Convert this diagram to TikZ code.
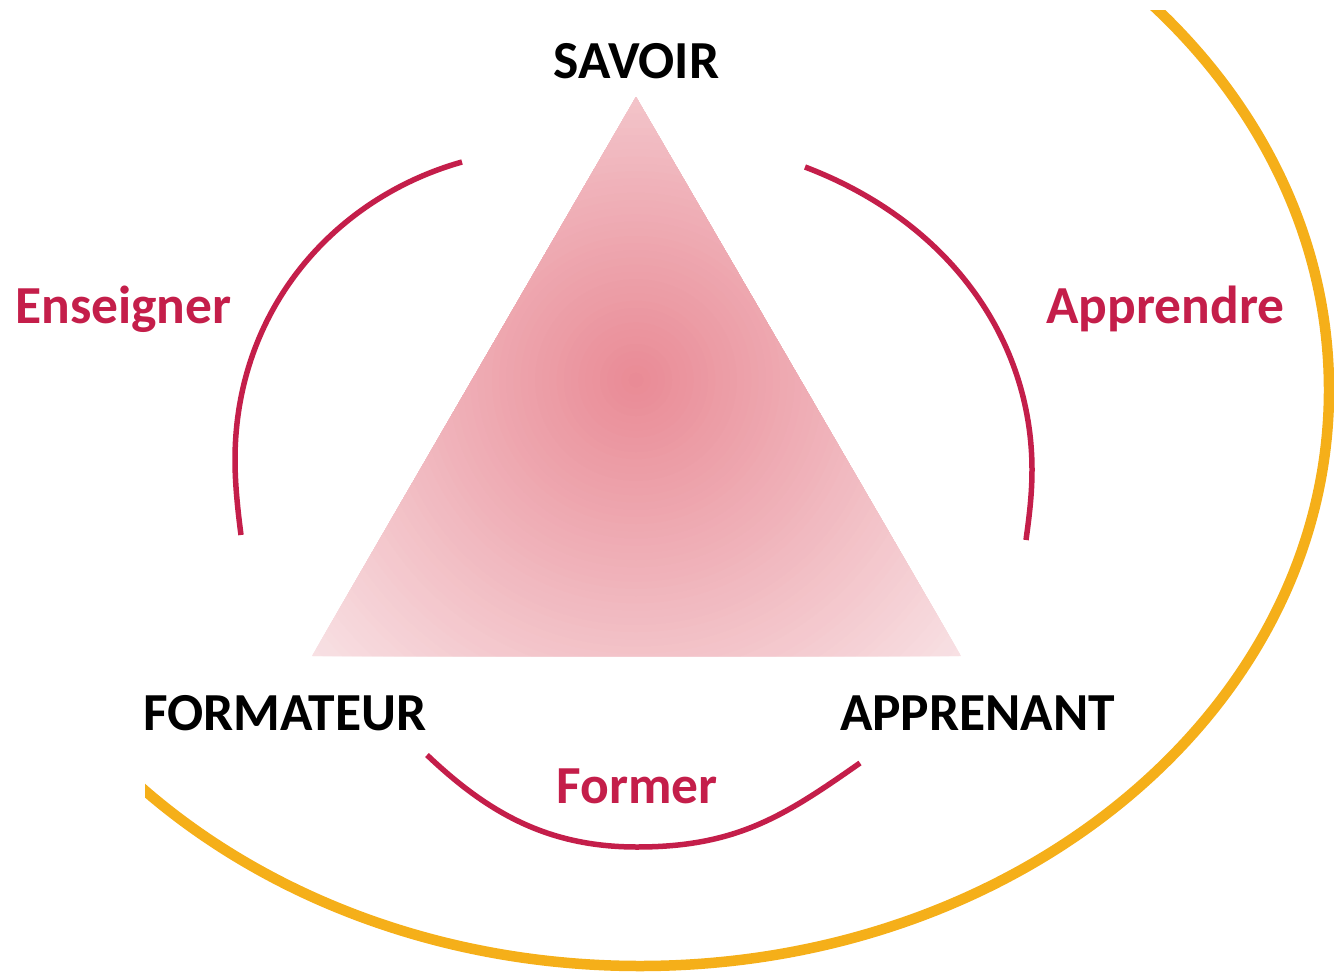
\documentclass[tikz,border=0pt]{standalone}
\usepackage{fontspec}
\setmainfont{Carlito}
\definecolor{arcred}{HTML}{C41E4A}
\definecolor{ringorange}{HTML}{F5AF19}
\definecolor{triin}{HTML}{E98A95}
\definecolor{triout}{HTML}{F8E2E5}
\tikzset{
  biglabel/.style={font=\fontsize{53.5}{60}\selectfont\bfseries, text=black, anchor=base, inner sep=0pt},
  verblabel/.style={font=\fontsize{53.5}{60}\selectfont\bfseries, text=arcred, anchor=base, inner sep=0pt},
  verbarc/.style={draw=arcred, line width=5.5pt},
}
\begin{document}
\begin{tikzpicture}[x=1pt,y=-1pt]
\useasboundingbox (0,0) rectangle (1334,972);
% orange ellipse, clipped
\begin{scope}
  \clip (145,10) rectangle (1334,972);
  \draw[ringorange, line width=10.5pt] (640,390) ellipse [x radius=689, y radius=576];
\end{scope}
% triangle with radial gradient
\coordinate (apex) at (636,97);
\coordinate (bl) at (312,656);
\coordinate (br) at (961,656);
\coordinate (gc) at (636,380);
\begin{scope}
  \clip (apex) -- (bl) -- (br) -- cycle;
  \foreach \i [evaluate=\i as \r using \i*7.2, evaluate=\i as \p using int(\i*5/3)] in {60,59,...,1} {
    \fill[triout!\p!triin] (gc) circle (\r);
  }
\end{scope}
% arcs
\coordinate (la) at (462,162);
\coordinate (lm) at (235,460);
\coordinate (lb) at (241,535);
\draw[verbarc] (la) .. controls (334,198) and (235,310) .. (lm) .. controls (235,485) and (238,512) .. (lb);
\coordinate (ra) at (805,167);
\coordinate (rm) at (1032,470);
\coordinate (rb) at (1026,540);
\draw[verbarc] (ra) .. controls (950,222) and (1032,340) .. (rm) .. controls (1032,495) and (1029,518) .. (rb);
\coordinate (ba) at (427,755);
\coordinate (bm) at (637,847);
\coordinate (bb) at (860,763);
\draw[verbarc] (ba) .. controls (487,812) and (547,847) .. (bm) .. controls (737,847) and (785,815.5) .. (bb);
% labels
\node[biglabel] (savoir) at (636.5,78) {SAVOIR};
\node[biglabel] (formateur) at (285,730) {FORMATEUR};
\node[biglabel] (apprenant) at (977.5,730) {APPRENANT};
\node[verblabel] (enseigner) at (123.5,323) {Enseigner};
\node[verblabel] (apprendre) at (1165.5,323) {Apprendre};
\node[verblabel] (former) at (637,803) {Former};
\end{tikzpicture}
\end{document}
